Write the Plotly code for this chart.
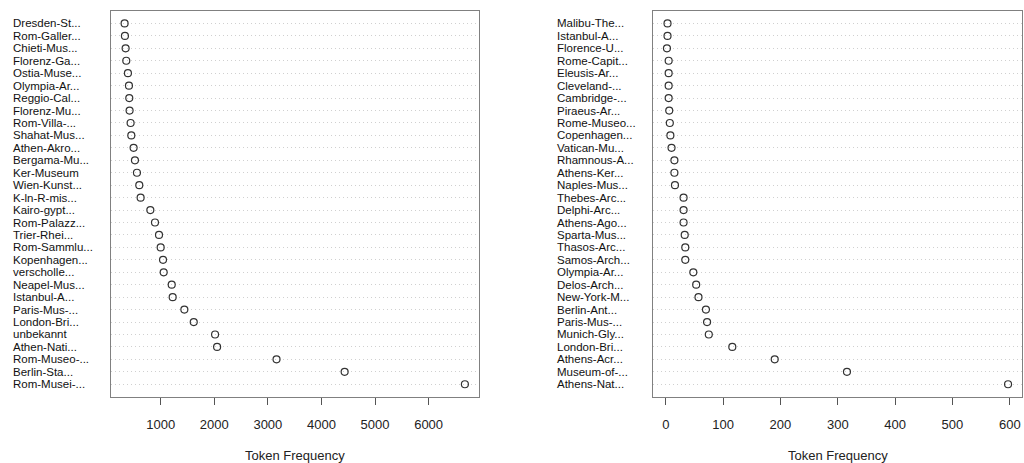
import plotly.graph_objects as go

left_labels = ["Dresden-St...", "Rom-Galler...", "Chieti-Mus...", "Florenz-Ga...", "Ostia-Muse...",
               "Olympia-Ar...", "Reggio-Cal...", "Florenz-Mu...", "Rom-Villa-...", "Shahat-Mus...",
               "Athen-Akro...", "Bergama-Mu...", "Ker-Museum", "Wien-Kunst...", "K-ln-R-mis...",
               "Kairo-gypt...", "Rom-Palazz...", "Trier-Rhei...", "Rom-Sammlu...", "Kopenhagen...",
               "verscholle...", "Neapel-Mus...", "Istanbul-A...", "Paris-Mus-...", "London-Bri...",
               "unbekannt", "Athen-Nati...", "Rom-Museo-...", "Berlin-Sta...", "Rom-Musei-..."]
left_values = [327, 333, 346, 358, 389, 408, 414, 420, 439, 452,
               495, 520, 557, 601, 626, 807, 894, 969, 1000, 1044,
               1056, 1206, 1224, 1442, 1617, 2015, 2053, 3162, 4433, 6677]

right_labels = ["Malibu-The...", "Istanbul-A...", "Florence-U...", "Rome-Capit...", "Eleusis-Ar...",
                "Cleveland-...", "Cambridge-...", "Piraeus-Ar...", "Rome-Museo...", "Copenhagen...",
                "Vatican-Mu...", "Rhamnous-A...", "Athens-Ker...", "Naples-Mus...", "Thebes-Arc...",
                "Delphi-Arc...", "Athens-Ago...", "Sparta-Mus...", "Thasos-Arc...", "Samos-Arch...",
                "Olympia-Ar...", "Delos-Arch...", "New-York-M...", "Berlin-Ant...", "Paris-Mus-...",
                "Munich-Gly...", "London-Bri...", "Athens-Acr...", "Museum-of-...", "Athens-Nat..."]
right_values = [3, 3, 2, 5, 5, 5, 5, 6, 7, 8,
                10, 15, 15, 16, 31, 31, 31, 33, 34, 34,
                48, 53, 57, 70, 72, 75, 116, 190, 316, 597]

left_ticks = [1000, 2000, 3000, 4000, 5000, 6000]
right_ticks = [0, 100, 200, 300, 400, 500, 600]
x_title = "Token Frequency"

FONT = "Liberation Sans, Arial, Helvetica, sans-serif"
W, H = 1024, 463
ytop = 1 - 11 / H
ybot = 1 - 396.7 / H
dom_left = [111 / W, 478.5 / W]
dom_right = [653.3 / W, 1021.7 / W]

fig = go.Figure()

def add_panel(labels, values, xa, ya, dom, ticks, label_x):
    n = len(labels)
    fig.add_trace(go.Scatter(
        x=values, y=list(range(n)), mode="markers",
        marker=dict(symbol="circle-open", size=7, color="#333333", line=dict(width=1.2)),
        xaxis=xa, yaxis=ya, showlegend=False, hoverinfo="x+text", text=labels,
    ))
    vmin, vmax = min(values), max(values)
    span = vmax - vmin
    key_x = "xaxis" if xa == "x" else "xaxis" + xa[1:]
    key_y = "yaxis" if ya == "y" else "yaxis" + ya[1:]
    fig.layout[key_x] = dict(
        domain=dom, range=[vmin - 0.04 * span, vmax + 0.04 * span],
        tickmode="array", tickvals=ticks, ticktext=[str(t) for t in ticks],
        ticks="outside", ticklen=7, tickcolor="#555555", tickwidth=1,
        ticklabelstandoff=9,
        showgrid=False, zeroline=False, showline=True, linecolor="#808080",
        linewidth=1, mirror=True, anchor=ya, automargin=False,
        tickfont=dict(family=FONT, size=13, color="#222222"),
    )
    fig.layout[key_y] = dict(
        domain=[ybot, ytop], range=[n, -1], anchor=xa,
        tickmode="array", tickvals=list(range(n)), showticklabels=False,
        showgrid=True, gridcolor="#d0d0d0", griddash="1px,3px", gridwidth=1,
        zeroline=False, showline=True, linecolor="#808080", linewidth=1, mirror=True,
        automargin=False,
    )
    for i, lab in enumerate(labels):
        fig.add_annotation(
            x=label_x, xref="paper", y=i, yref=ya, text=lab, showarrow=False,
            xanchor="left", yanchor="middle",
            font=dict(family=FONT, size=11.5, color="#111111"),
        )
    fig.add_annotation(
        x=(dom[0] + dom[1]) / 2, xref="paper", y=1 - 455 / H, yref="paper",
        text=x_title, showarrow=False, xanchor="center", yanchor="middle",
        font=dict(family=FONT, size=13, color="#222222"),
    )

add_panel(left_labels, left_values, "x", "y", dom_left, left_ticks, 11 / W)
add_panel(right_labels, right_values, "x2", "y2", dom_right, right_ticks, 555 / W)

fig.update_layout(
    width=W, height=H, margin=dict(l=0, r=0, t=0, b=0),
    paper_bgcolor="white", plot_bgcolor="white",
)

fig.write_html("out.html", include_plotlyjs=True, config={"displayModeBar": False})
